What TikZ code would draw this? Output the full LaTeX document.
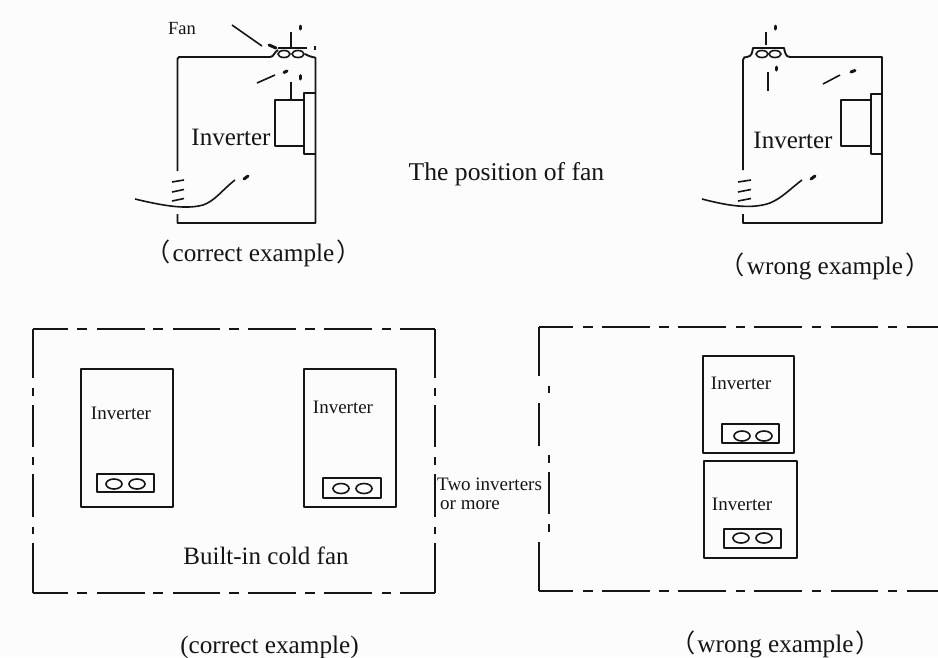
\documentclass[tikz,border=0pt]{standalone}
\usepackage{fontspec}
\setmainfont{Liberation Serif}
\newfontfamily\cjk{Noto Sans CJK SC}
\definecolor{ink}{HTML}{151515}
\tikzset{
  x=1pt,y=-1pt,
  wire/.style={draw=ink,line width=1.9pt,line join=round},
  thin wire/.style={draw=ink,line width=1.6pt},
  blob/.style={draw=ink,line width=3pt,line cap=round},
  txt/.style={text=ink,inner sep=0pt,anchor=center},
  big/.style={txt,font=\fontsize{25}{28}\selectfont},
  captiontext/.style={txt,font=\fontsize{25.2}{28}\selectfont},
  heading/.style={txt,font=\fontsize{25.6}{28}\selectfont},
  mid/.style={txt,font=\fontsize{19}{22}\selectfont},
  small/.style={txt,font=\fontsize{19}{22}\selectfont},
  fanlabel/.style={txt,font=\fontsize{18.5}{22}\selectfont},
}
\newcommand{\segsH}[2]{\foreach \a/\b in {#2} {\draw[wire] (\a,#1) -- (\b,#1);}}
\newcommand{\segsV}[2]{\foreach \a/\b in {#2} {\draw[wire] (#1,\a) -- (#1,\b);}}
\newcommand{\lp}{{\cjk （}\hspace{2pt}}
\newcommand{\rp}{\hspace{2pt}{\cjk ）}}
\begin{document}
\begin{tikzpicture}
\useasboundingbox (0,0) rectangle (938,657);
\fill[fill=white!99!black] (0,0) rectangle (938,657);

% ---- top left cabinet
\draw[wire] (177.5,171) -- (177.5,59) to[out=-90,in=180] (179,57) -- (270,57)
  .. controls (274,57) and (274,52) .. (278,50);
\draw[wire] (177.5,214) -- (177.5,223) -- (315.5,223) -- (315.5,58) .. controls (315.5,57) and (312,58) .. (305,54);
\draw[thin wire] (278,48) -- (307,48);
\draw[thin wire] (291,32) -- (291,48);
\draw[thin wire] (284,54) ellipse (6 and 3.5);
\draw[thin wire] (298,54) ellipse (6 and 3.5);
\draw[thin wire] (232,25) -- (262,46);
\draw[blob] (269,45) -- (276,48);
\draw[blob] (300,26) -- (300,29);
\draw[thin wire] (315,46) -- (315,50);
\draw[thin wire] (257,83) -- (275,75);
\draw[blob] (284,72.5) -- (287,71);
\draw[thin wire] (291,82) -- (291,99);
\draw[blob] (300,75.5) -- (300,79);
\draw[wire] (275,100) rectangle (304,146);
\draw[wire] (304,93) rectangle (315.5,154);
\node[big] (invA) at (231,137) {Inverter};
\draw[thin wire] (135,199) .. controls (160,205) and (185,210) .. (203,205)
  .. controls (215,201) and (222,190) .. (235,180);
\draw[blob] (244,179) -- (248,176);
\draw[thin wire] (172,182) -- (184,180);
\draw[thin wire] (172,192) -- (184,189.5);
\draw[thin wire] (172,201) -- (184,198.5);
\node[fanlabel] (fan) at (182,29) {Fan};
\node[captiontext] (capA) at (253.5,253) {\lp correct example\rp};

% ---- centre title
\node[heading] (title) at (506.5,174) {The position of fan};

% ---- top right cabinet
\draw[wire] (743,170) -- (743,60) .. controls (743,57) and (745,57) .. (747,57)
  .. controls (752,56) and (752,53) .. (753,48) -- (784,48)
  .. controls (785,53) and (786,57) .. (790,57) -- (882,57) -- (882,223) -- (743,223) -- (743,214);
\draw[thin wire] (762,54) ellipse (6 and 3.5);
\draw[thin wire] (775,54) ellipse (6 and 3.5);
\draw[thin wire] (766,32) -- (766,45);
\draw[blob] (775,26) -- (775,29);
\draw[thin wire] (768,72) -- (768,91);
\draw[blob] (776,67) -- (776,70);
\draw[thin wire] (823,84) -- (840,75);
\draw[blob] (851,72) -- (855,70.5);
\draw[wire] (841,100) rectangle (871,146);
\draw[wire] (871,94) rectangle (882,154);
\node[big] (invB) at (793,140) {Inverter};
\draw[thin wire] (702,199) .. controls (725,205) and (750,210) .. (770,203)
  .. controls (782,198) and (790,189) .. (802,180);
\draw[blob] (811,179) -- (815,176);
\draw[thin wire] (738,182) -- (751,180);
\draw[thin wire] (738,192) -- (751,189.5);
\draw[thin wire] (738,201) -- (751,198.5);
\node[captiontext] (capB) at (825,266) {\lp wrong example\rp};

% ---- bottom left frame
\segsH{329}{33/68,77/87,97/145,153/163,173/220,229/239,248/296,305/315,324/372,382/391,400/435}
\segsH{593}{33/68,77/87,97/145,153/163,173/220,229/239,248/296,305/315,324/372,382/391,400/435}
\segsV{33}{329/378,388/396,405/447,457/465,474/517,527/534,543/593}
\segsV{435}{329/378,388/396,405/447,457/465,474/517,527/534,543/593}

\node[wire,rectangle,minimum width=92pt,minimum height=138pt,inner sep=0pt] (boxA) at (127,438) {};
\node[wire,rectangle,minimum width=57pt,minimum height=18pt,inner sep=0pt] (fanA) at (125.5,483) {};
\draw[thin wire] (114,484) ellipse (8 and 5);
\draw[thin wire] (137,484) ellipse (8 and 5);
\node[mid] (labA) at (121,413) {Inverter};

\node[wire,rectangle,minimum width=92pt,minimum height=138pt,inner sep=0pt] (boxB) at (350,438) {};
\node[wire,rectangle,minimum width=58pt,minimum height=20pt,inner sep=0pt] (fanB) at (352,488) {};
\draw[thin wire] (341,488.5) ellipse (8 and 5);
\draw[thin wire] (364,488.5) ellipse (8 and 5);
\node[mid] (labB) at (343,407) {Inverter};

\node[big] (built) at (266,556) {Built-in cold fan};
\node[captiontext] (capC) at (269.5,647) {(correct example)};

\node[small,anchor=west] (two) at (437,484) {Two inverters};
\node[small,anchor=west] (more) at (440,505) {or more};

% ---- bottom right frame
\segsH{327}{539/573,583/593,602/650,659/669,678/726,736/745,754/802,812/821,831/878,888/897,907/938}
\segsH{591}{539/573,583/593,602/650,659/669,678/726,736/745,754/802,812/821,831/878,888/897,907/938}
\segsV{539}{327/376,403/446,542/591}
\segsV{549}{386/393,455/463,472/514,524/532}

\node[wire,rectangle,minimum width=91pt,minimum height=97pt,inner sep=0pt] (boxC) at (748.5,404.5) {};
\node[wire,rectangle,minimum width=57pt,minimum height=19pt,inner sep=0pt] (fanC) at (750.5,433.5) {};
\draw[thin wire] (742,436) ellipse (8 and 5);
\draw[thin wire] (764,436) ellipse (8 and 5);
\node[mid] (labC) at (741,383) {Inverter};

\node[wire,rectangle,minimum width=93pt,minimum height=97pt,inner sep=0pt] (boxD) at (750.5,509.5) {};
\node[wire,rectangle,minimum width=57pt,minimum height=19pt,inner sep=0pt] (fanD) at (752.5,538.5) {};
\draw[thin wire] (741,538) ellipse (8 and 5);
\draw[thin wire] (764,538) ellipse (8 and 5);
\node[mid] (labD) at (742,504) {Inverter};

\node[captiontext] (capD) at (775.5,644) {\lp wrong example\rp};
\end{tikzpicture}
\end{document}
